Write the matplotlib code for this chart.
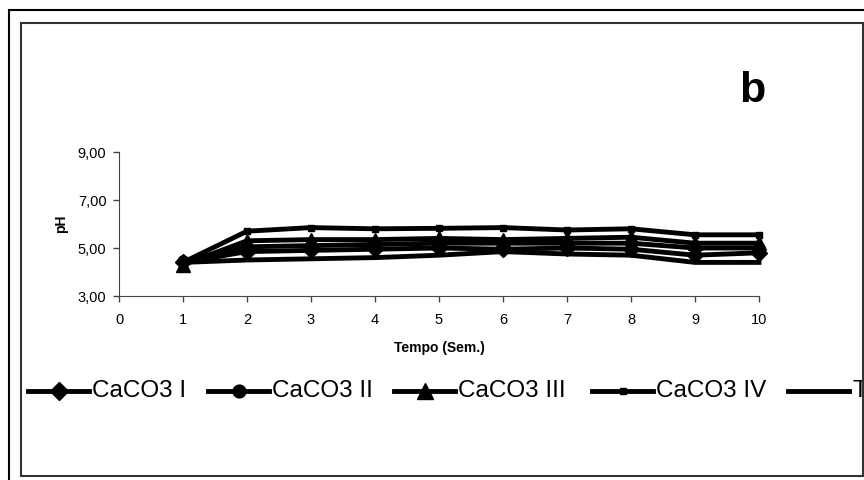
import matplotlib.pyplot as plt
from matplotlib.patches import Rectangle
from matplotlib.lines import Line2D
from matplotlib.ticker import FuncFormatter

plt.rcParams['font.family'] = ['Liberation Sans', 'DejaVu Sans']

# semanas
weeks = [1, 2, 3, 4, 5, 6, 7, 8, 9, 10]

# pH por tratamento
ph_caco3_i = [4.40, 4.85, 4.90, 4.95, 5.00, 4.95, 5.00, 4.95, 4.70, 4.80]
ph_caco3_ii = [4.45, 5.05, 5.10, 5.15, 5.20, 5.20, 5.20, 5.20, 5.00, 5.00]
ph_caco3_iii = [4.30, 5.30, 5.35, 5.35, 5.40, 5.35, 5.40, 5.45, 5.20, 5.20]
ph_caco3_iv = [4.40, 5.70, 5.85, 5.80, 5.82, 5.85, 5.75, 5.80, 5.55, 5.55]
ph_test = [4.40, 4.50, 4.55, 4.60, 4.70, 4.85, 4.75, 4.70, 4.40, 4.40]

series_labels = ["CaCO3 I", "CaCO3 II", "CaCO3 III", "CaCO3 IV", "Testemunha"]
series_values = [ph_caco3_i, ph_caco3_ii, ph_caco3_iii, ph_caco3_iv, ph_test]
series_markers = ["D", "o", "^", "s", None]
marker_sizes = [8, 8, 10, 4, 0]

W, H = 864, 480
fig = plt.figure(figsize=(W / 100, H / 100), dpi=100)

# Rahmen (außen und innen)
fig.patches.append(Rectangle((9 / W, 1 - 600 / H), 900 / W, 590 / H, transform=fig.transFigure,
                             fill=False, edgecolor="black", linewidth=1.5))
fig.patches.append(Rectangle((21 / W, 1 - 476 / H), 842 / W, 453 / H, transform=fig.transFigure,
                             fill=False, edgecolor="#333333", linewidth=1.5))

ax = fig.add_axes([119 / W, 1 - 296 / H, 640 / W, 144 / H])
for vals, mk, ms in zip(series_values, series_markers, marker_sizes):
    ax.plot(weeks, vals, color="black", linewidth=3.5, marker=mk, markersize=ms,
            solid_joinstyle="round", clip_on=False)

ax.set_xlim(0, 10)
ax.set_ylim(3, 9)
ax.set_xticks(range(0, 11))
ax.set_yticks([3, 5, 7, 9])
ax.yaxis.set_major_formatter(FuncFormatter(lambda v, p: f"{v:.2f}".replace(".", ",")))
ax.tick_params(labelsize=10.5, length=4, width=1, color="#444444")
ax.tick_params(axis="x", pad=8)
ax.tick_params(axis="y", pad=5)
for s in ["top", "right"]:
    ax.spines[s].set_visible(False)
for s in ["left", "bottom"]:
    ax.spines[s].set_color("#444444")
ax.set_xlabel("Tempo (Sem.)", fontsize=10, fontweight="bold", labelpad=10)
ax.set_ylabel("pH", fontsize=10, fontweight="bold", labelpad=7)

fig.text(752 / W, 1 - 91 / H, "b", fontsize=31, fontweight="bold", ha="center", va="center")

# Legende manuell, rechts abgeschnitten durch den inneren Rahmen
lax = fig.add_axes([21 / W, 1 - 476 / H, 842 / W, 453 / H])
lax.set_xlim(21, 863)
lax.set_ylim(476, 23)
lax.axis("off")
leg_x = [28, 208, 394, 592, 788]
leg_y = 391
for x0, lab, mk, ms in zip(leg_x, series_labels, series_markers, marker_sizes):
    lax.add_line(Line2D([x0, x0 + 61], [leg_y, leg_y], color="black", linewidth=3.5))
    if mk:
        lax.plot([x0 + 31], [leg_y], marker=mk, color="black", markersize=ms * 1.15)
    lax.text(x0 + 64, leg_y, lab, fontsize=17.5, va="center", ha="left", clip_on=True)

fig.savefig("out.png", dpi=100)
